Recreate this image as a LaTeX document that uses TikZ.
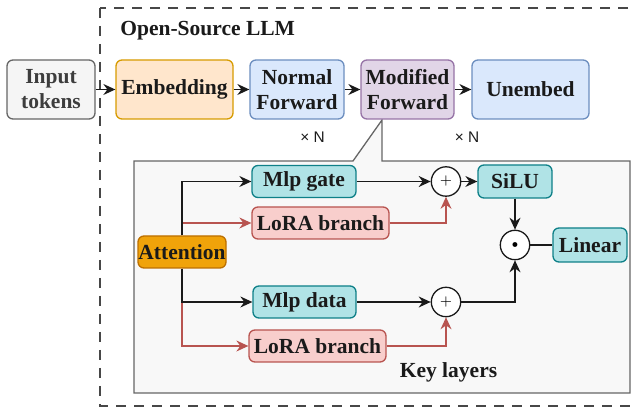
\documentclass[tikz,border=0pt]{standalone}
\usepackage{fontspec}
\setmainfont{Liberation Serif}
\newfontfamily\repfont{Liberation Sans}
\usetikzlibrary{arrows.meta}

\definecolor{inkdark}{HTML}{1A1A1A}
\definecolor{grayfill}{HTML}{F5F5F5}
\definecolor{graydraw}{HTML}{666666}
\definecolor{embfill}{HTML}{FFE6CC}
\definecolor{embdraw}{HTML}{D79B00}
\definecolor{bluefill}{HTML}{DAE8FC}
\definecolor{bluedraw}{HTML}{6C8EBF}
\definecolor{modfill}{HTML}{E1D5E7}
\definecolor{moddraw}{HTML}{9673A6}
\definecolor{attfill}{HTML}{F0A30A}
\definecolor{attdraw}{HTML}{BD7000}
\definecolor{mlpfill}{HTML}{B0E3E6}
\definecolor{mlpdraw}{HTML}{0E8088}
\definecolor{lorafill}{HTML}{F8CECC}
\definecolor{loradraw}{HTML}{B85450}
\definecolor{panelfill}{HTML}{F8F8F8}

\begin{document}
\begin{tikzpicture}[x=0.5pt,y=-0.5pt]
\tikzset{
  box/.style={draw, rounded corners=3pt, line width=0.65pt, inner sep=0pt,
    align=center, text=inkdark, font=\fontsize{10.75}{12.5}\selectfont\bfseries},
  bigbox/.style={box, minimum height=29.5pt},
  smallbox/.style={box, minimum height=16pt},
  mlpbox/.style={smallbox, fill=mlpfill, draw=mlpdraw},
  lorabox/.style={smallbox, fill=lorafill, draw=loradraw},
  opcircle/.style={draw=inkdark, fill=white, circle, line width=0.65pt,
    minimum size=14.7pt, inner sep=0pt, font=\fontsize{7}{8}\selectfont},
  flow/.style={draw=inkdark, line width=0.65pt, -{Stealth[length=6pt,width=5.5pt,inset=2pt]}},
  loraflow/.style={flow, draw=loradraw, -{Stealth[length=6pt,width=5.5pt,inset=2pt,color=loradraw]}},
  rep/.style={text=inkdark, font=\repfont\fontsize{7.7}{9}\selectfont},
  title/.style={inner sep=0pt, text=inkdark, font=\fontsize{10.75}{12.5}\selectfont\bfseries}
}
\clip (0,0) rectangle (631,410);

% outer frame
\draw[graydraw!70!black, line width=0.65pt, dash pattern=on 5pt off 4pt]
  (100,8) rectangle (650,406);
\node[title, anchor=base west] (llm) at (120,36) {Open-Source LLM};

% key layers panel with pointer
\draw[draw=graydraw, fill=panelfill, line width=0.65pt]
  (134,161) -- (353,161) -- (382,120) -- (382,161) -- (630,161)
  -- (630,393) -- (134,393) -- cycle;
\node[title, anchor=base] (keylbl) at (448.5,378) {Key layers};

% main row
\node[bigbox, minimum width=44pt, fill=grayfill, draw=graydraw, text=graydraw!60!black]
  (input) at (51,89.5) {Input\\tokens};
\node[bigbox, minimum width=58.5pt, fill=embfill, draw=embdraw]
  (embed) at (174.5,89.5) {Embedding};
\node[bigbox, minimum width=47pt, fill=bluefill, draw=bluedraw]
  (normal) at (297,89.5) {Normal\\Forward};
\node[bigbox, minimum width=46.5pt, fill=modfill, draw=moddraw]
  (modified) at (407.5,89.5) {Modified\\Forward};
\node[bigbox, minimum width=58.5pt, fill=bluefill, draw=bluedraw]
  (unembed) at (530.5,89.5) {Unembed};
\node[rep] (rep1) at (312.5,137.5) {× N};
\node[rep] (rep2) at (467,137.5) {× N};

\draw[flow] (input) -- (embed);
\draw[flow] (embed) -- (normal);
\draw[flow] (normal) -- (modified);
\draw[flow] (modified) -- (unembed);

% key layers
\node[smallbox, minimum width=44pt, fill=attfill, draw=attdraw] (attn) at (182,252) {Attention};
\node[mlpbox, minimum width=52pt] (gate) at (304,181.5) {Mlp gate};
\node[lorabox, minimum width=68.5pt] (loraA) at (320.5,223) {LoRA branch};
\node[mlpbox, minimum width=51.5pt] (data) at (304.5,302) {Mlp data};
\node[lorabox, minimum width=68.5pt] (loraB) at (317.5,346) {LoRA branch};
\node[opcircle] (plusA) at (446,181.5) {$+$};
\node[opcircle] (plusB) at (446,302) {$+$};
\node[mlpbox, minimum width=37pt, minimum height=16.5pt] (silu) at (515,181.5) {SiLU};
\node[opcircle, font=\fontsize{5}{5}\selectfont] (mult) at (515,245) {$\bullet$};
\node[mlpbox, minimum width=37pt, minimum height=17pt] (linear) at (590,245) {Linear};

\draw[loraflow] (attn.north) |- (loraA.west);
\draw[flow] (attn.north) |- (gate.west);
\draw[loraflow] (attn.south) |- (loraB.west);
\draw[flow] (attn.south) |- (data.west);

\draw[flow] (gate) -- (plusA);
\draw[loraflow] (loraA.east) -| (plusA.south);
\draw[flow] (data) -- (plusB);
\draw[loraflow] (loraB.east) -| (plusB.south);
\draw[flow] (plusA) -- (silu);
\draw[flow] (silu) -- (mult);
\draw[flow] (plusB.east) -| (mult.south);
\draw[draw=inkdark, line width=0.65pt] (mult) -- (linear);
\end{tikzpicture}
\end{document}
